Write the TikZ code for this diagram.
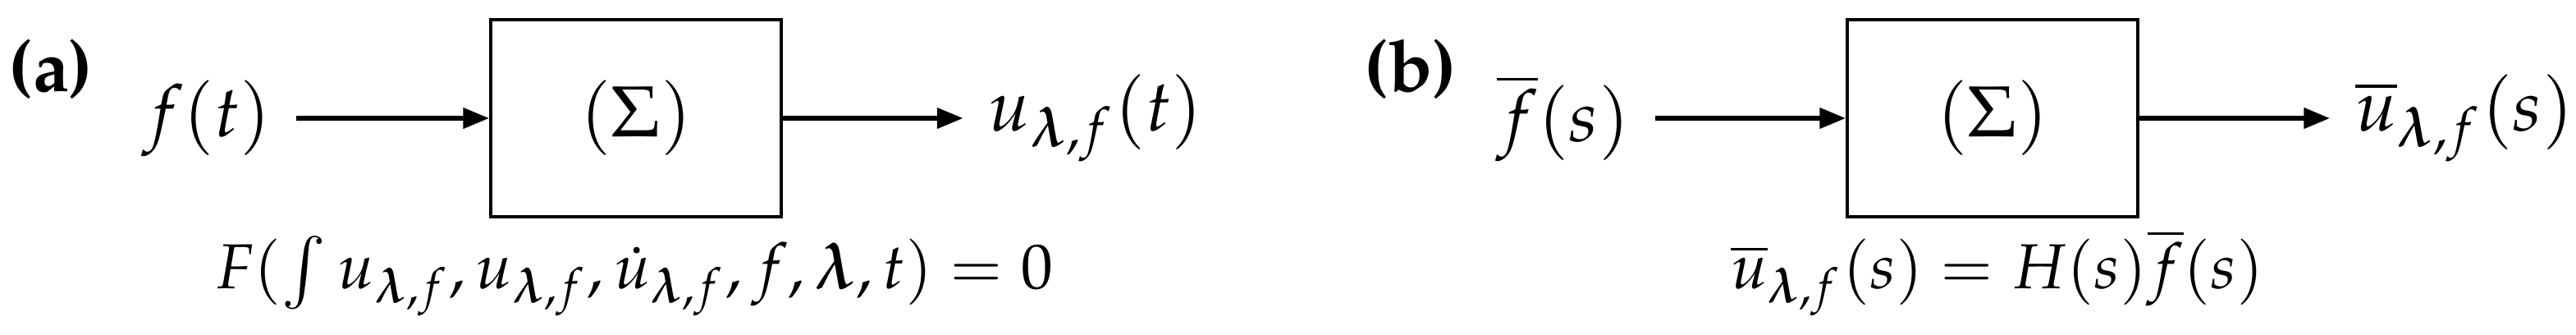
\documentclass[tikz,border=0pt]{standalone}
\usepackage[T1]{fontenc}
\usepackage{amsmath}
\usepackage{amssymb}
\usepackage{mathpazo}
\usepackage{tikz}
\usetikzlibrary{arrows.meta}

\begin{document}
\begin{tikzpicture}[>={Triangle[length=3.6pt,width=2.8pt]},
    sys/.style={draw,line width=0.45pt,minimum width=1.416cm,minimum height=0.96cm,inner sep=0},
    sig/.style={line width=0.6pt,->},
    rel/.style={anchor=base,font=\fontsize{8.8}{10}\selectfont}]
        \useasboundingbox (0,0) rectangle (12.556,1.632);
        % (a) time domain
        \node[font=\bfseries] (la) at (0.248,1.292) {(a)};
        \node (fa) at (1.008,1.056) {$f(t)$};
        \node[sys] (sa) at (3.10,1.056) {$(\Sigma)$};
        \node (ua) at (5.34,1.056) {$u_{\boldsymbol{\lambda},f}(t)$};
        \node[rel] (ea) at (3.09,0.224) {$F(\int u_{\boldsymbol{\lambda},f}, u_{\boldsymbol{\lambda},f}, \dot{u}_{\boldsymbol{\lambda},f}, f, \boldsymbol{\lambda}, t) = 0$};
        \draw[sig] (fa) -- (sa);
        \draw[sig] (sa) -- (ua);
        % (b) Laplace domain
        \node[font=\bfseries] (lb) at (6.876,1.292) {(b)};
        \node (fb) at (7.62,1.056) {$\overline{f}(s)$};
        \node[sys] (sb) at (9.712,1.056) {$(\Sigma)$};
        \node (ub) at (12.012,1.056) {$\overline{u}_{\boldsymbol{\lambda},f}(s)$};
        \node[rel] (eb) at (9.736,0.224) {$\overline{u}_{\boldsymbol{\lambda},f}(s) = H(s)\overline{f}(s)$};
        \draw[sig] (fb) -- (sb);
        \draw[sig] (sb) -- (ub);
      \end{tikzpicture}
\end{document}
